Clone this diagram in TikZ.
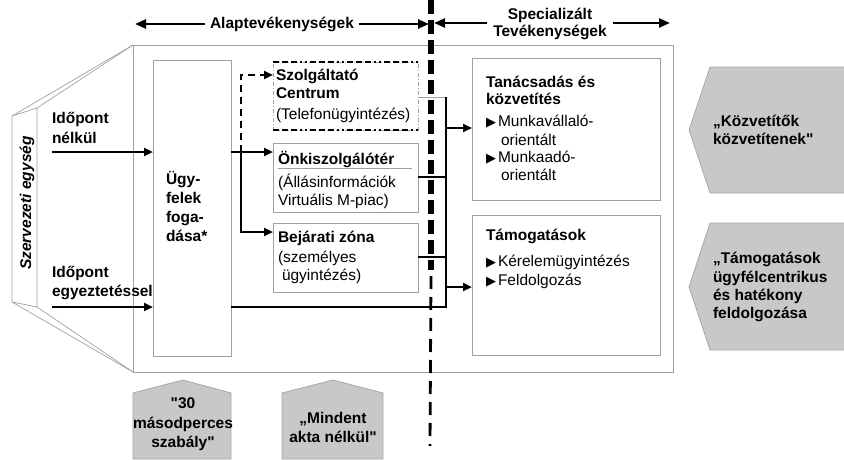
\documentclass[tikz,border=0pt]{standalone}
\usepackage{fontspec}
\setmainfont{Liberation Sans}[Ligatures=TeXOff]
\newfontfamily\dejavu{DejaVu Sans}
\usetikzlibrary{arrows.meta}
\definecolor{boxgray}{HTML}{A0A0A0}
\definecolor{shapegray}{HTML}{C8C8C8}
\definecolor{shapeborder}{HTML}{A8A8A8}
\newcommand{\bul}{{\dejavu\fontsize{13}{14}\selectfont\raisebox{0pt}{▶}}}
\begin{document}
\begin{tikzpicture}[x=1pt,y=-1pt,
  every node/.style={inner sep=0pt, outer sep=0pt},
  txt/.style={font=\fontsize{15.5}{18}\selectfont, anchor=base west},
  btxt/.style={font=\fontsize{15.5}{18}\selectfont\bfseries, anchor=base west},
  ctxt/.style={font=\fontsize{15.5}{18}\selectfont\bfseries, anchor=base},
  gbox/.style={draw=boxgray, line width=0.8pt, anchor=north west},
  conn/.style={line width=2.6pt},
  arr/.style={conn, -{Triangle[length=9pt,width=8pt]}},
  tarr/.style={line width=2.4pt, -{Triangle[length=11pt,width=9pt]}},
  thin/.style={draw=boxgray, line width=0.7pt},
  shade/.style={fill=shapegray, draw=shapeborder, line width=0.8pt}
]
\useasboundingbox (0,0) rectangle (844,460);

% ---------- left panel with perspective lines ----------
\draw[thin, fill=white] (12,116) -- (37,108) -- (37,307) -- (12,302) -- cycle;
\draw[thin] (12,116) -- (133,45);
\draw[thin] (37,108) -- (133,45);
\draw[thin] (12,302) -- (133,372);
\draw[thin] (37,307) -- (133,372);
\node[rotate=90, anchor=base, font=\fontsize{15.5}{18}\selectfont\bfseries\itshape] (szerv) at (31,203) {Szervezeti egység};

% ---------- boxes ----------
\node[gbox, minimum width=540pt, minimum height=327pt] (main) at (133,45) {};
\node[gbox, minimum width=78pt, minimum height=296pt, fill=white] (ugy) at (153,60) {};
\node[anchor=north west, draw=boxgray, line width=0.7pt, dash pattern=on 4pt off 2pt on 1pt off 2pt,
      minimum width=145pt, minimum height=68pt] (szolg) at (273,62) {};
\draw[line width=2.4pt, dash pattern=on 6pt off 3pt on 6pt off 3pt on 6pt off 3pt on 2pt off 3pt on 2pt off 3pt]
  (szolg.north west) -- (szolg.north east);
\draw[line width=2.4pt, dash pattern=on 6pt off 3pt on 6pt off 3pt on 6pt off 3pt on 2pt off 3pt on 2pt off 3pt]
  (szolg.south west) -- (szolg.south east);
\node[gbox, minimum width=145pt, minimum height=69pt] (onk) at (273,143) {};
\node[gbox, minimum width=145pt, minimum height=69pt] (bej) at (273,223) {};
\node[gbox, minimum width=188pt, minimum height=142pt] (tan) at (472,58) {};
\node[gbox, minimum width=188pt, minimum height=140pt] (tam) at (472,215) {};

% ---------- texts in boxes ----------
\node[btxt] (i1a) at (52,124) {Időpont};
\node[btxt] (i1b) at (52,143) {nélkül};
\node[btxt] (i2a) at (52,277) {Időpont};
\node[btxt] (i2b) at (52,296) {egyeztetéssel};

\node[btxt] (u1) at (166,184) {Ügy-};
\node[btxt] (u2) at (166,203) {felek};
\node[btxt] (u3) at (166,222) {foga-};
\node[btxt] (u4) at (166,241) {dása*};

\node[btxt] (s1) at (276,81) {Szolgáltató};
\node[btxt] (s2) at (276,99) {Centrum};
\node[txt]  (s3) at (276,119) {(Telefonügyintézés)};

\node[btxt] (o1) at (278,164) {Önkiszolgálótér};
\draw[thin] (278,168.5) -- (412,168.5);
\node[txt]  (o2) at (278,187) {(Állásinformációk};
\node[txt]  (o3) at (278,205) {Virtuális M-piac)};

\node[btxt] (b1) at (278,242) {Bejárati zóna};
\node[txt]  (b2) at (278,262) {(személyes};
\node[txt]  (b3) at (282,280) {ügyintézés)};

\node[btxt] (ta1) at (486,88) {Tanácsadás és};
\node[btxt] (ta2) at (486,104) {közvetítés};
\node[txt]  (ta3) at (486,127) {\bul\hspace{2pt}Munkavállaló-};
\node[txt]  (ta4) at (501,145) {orientált};
\node[txt]  (ta5) at (486,162) {\bul\hspace{2pt}Munkaadó-};
\node[txt]  (ta6) at (501,180) {orientált};

\node[btxt] (tm1) at (486,240) {Támogatások};
\node[txt]  (tm2) at (486,266) {\bul\hspace{2pt}Kérelemügyintézés};
\node[txt]  (tm3) at (486,285) {\bul\hspace{2pt}Feldolgozás};

% ---------- gray callouts ----------
\filldraw[shade] (845,67) -- (710,67) -- (689,130) -- (710,193) -- (845,193);
\node[btxt] (k1) at (713,126) {„Közvetítők};
\node[btxt] (k2) at (713,144) {közvetítenek"};
\filldraw[shade] (845,223) -- (710,223) -- (689,287) -- (710,350) -- (845,350);
\node[btxt] (h1) at (713,263) {„Támogatások};
\node[btxt] (h2) at (713,282) {ügyfélcentrikus};
\node[btxt] (h3) at (713,300) {és hatékony};
\node[btxt] (h4) at (713,318) {feldolgozása};

\filldraw[shade] (133,459) -- (133,393) -- (183,380) -- (231,393) -- (231,459) -- cycle;
\node[ctxt] (m1) at (183,408) {"30};
\node[ctxt] (m2) at (183,428) {másodperces};
\node[ctxt] (m3) at (183,447) {szabály"};
\filldraw[shade] (282,459) -- (282,393) -- (333,380) -- (383,393) -- (383,459) -- cycle;
\node[ctxt] (n1) at (333,423) {„Mindent};
\node[ctxt] (n2) at (333,442) {akta nélkül"};

% ---------- top arrows ----------
\node[ctxt] (alap) at (282,29) {Alaptevékenységek};
\node[ctxt] (spec1) at (550,20) {Specializált};
\node[ctxt] (spec2) at (550,37) {Tevékenységek};
\coordinate (a1) at (135,24);
\coordinate (a2) at (429,24);
\coordinate (a3) at (434,23);
\coordinate (a4) at (670,23);
\draw[tarr] ([xshift=-5pt]alap.west |- a1) -- (a1);
\draw[tarr] ([xshift=5pt]alap.east |- a2) -- (a2);
\draw[tarr] (487,23) -- (a3);
\draw[tarr] (613,23) -- (a4);

% ---------- input arrows ----------
\coordinate (in1) at (52,152);
\coordinate (in2) at (52,307);
\draw[arr] (in1) -- (in1 -| ugy.west);
\draw[arr] (in2) -- (in2 -| ugy.west);

% ---------- distribution ----------
\coordinate (j0) at (241,75);
\coordinate (j1) at (241,152);
\coordinate (j2) at (241,232);
\draw[conn] (ugy.east |- j1) -- (j1);
\draw[arr] (j1) -- (j1 -| onk.west);
\draw[arr] (j1) -- (j2) -- (j2 -| bej.west);
\draw[arr, line width=2.4pt, dash pattern=on 7pt off 5pt] (j1) -- (j0) -- (j0 -| szolg.west);

% ---------- collection ----------
\coordinate (v1) at (446,97);
\coordinate (v2) at (446,307);
\coordinate (v3) at (446,177);
\coordinate (v4) at (446,257);
\coordinate (v5) at (446,128);
\coordinate (v6) at (446,287);
\draw[thin] (szolg.east |- v1) -- (v1);
\draw[conn] (v3 -| onk.east) -- (v3);
\draw[conn] (v4 -| bej.east) -- (v4);
\draw[conn] (ugy.east |- v2) -- ([xshift=1.3pt]v2);
\draw[conn] (v1) -- (v2);
\draw[arr] (v5) -- (v5 -| tan.west);
\draw[arr] (v6) -- (v6 -| tam.west);

% ---------- dividing dashed line ----------
\draw[line width=5.5pt, dash pattern=on 14pt off 6pt] (431,0) -- (431,270);
\draw[line width=2.8pt, dash pattern=on 13pt off 8pt] (431,276) -- (430,446);
\end{tikzpicture}
\end{document}
